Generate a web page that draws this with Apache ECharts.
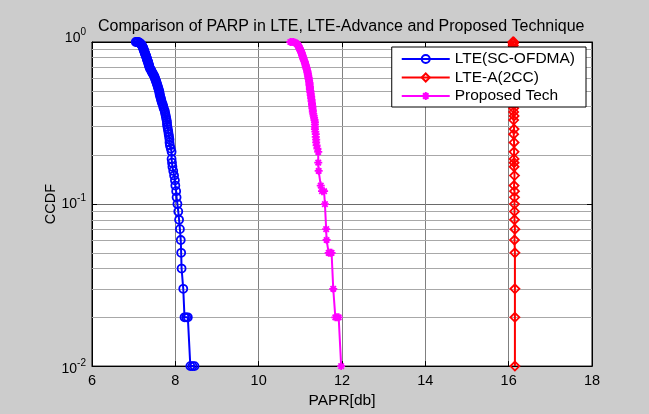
<!DOCTYPE html>
<html>
<head>
<meta charset="utf-8">
<script src="https://cdn.jsdelivr.net/npm/echarts@6/dist/echarts.min.js"></script>
<style>
html,body{margin:0;padding:0;background:#cccccc;}
#chart{width:649px;height:414px;}
</style>
</head>
<body>
<div id="chart"></div>
<script>
// ---- data ----
var lteX = [7.05,7.08,7.11,7.14,7.16,7.18,7.19,7.20,7.21,7.22,7.23,7.23,7.24,7.25,7.25,7.26,7.27,7.27,7.28,7.29,7.30,7.30,7.31,7.32,7.32,7.33,7.34,7.35,7.35,7.36,7.37,7.37,7.38,7.39,7.40,7.42,7.43,7.44,7.46,7.47,7.49,7.50,7.51,7.52,7.53,7.54,7.55,7.56,7.57,7.58,7.59,7.60,7.61,7.62,7.62,7.63,7.64,7.65,7.66,7.67,7.68,7.70,7.71,7.72,7.74,7.75,7.76,7.77,7.78,7.79,7.80,7.80,7.81,7.82,7.83,7.84,7.85,7.86,7.86,7.87,7.89,7.91,7.91,7.92,7.93,7.95,7.97,7.99,8.00,8.02,8.03,8.05,8.07,8.09,8.11,8.13,8.14,8.15,8.19,8.22,8.26,8.30,8.36,8.41,8.46];
var lteY = [1.00,1.00,1.00,0.99,0.98,0.97,0.96,0.95,0.94,0.93,0.92,0.91,0.90,0.89,0.88,0.87,0.86,0.85,0.84,0.83,0.82,0.81,0.80,0.79,0.78,0.77,0.76,0.75,0.74,0.73,0.72,0.71,0.70,0.69,0.68,0.67,0.66,0.65,0.64,0.63,0.62,0.61,0.60,0.59,0.58,0.57,0.56,0.55,0.54,0.53,0.52,0.51,0.50,0.49,0.48,0.47,0.46,0.45,0.44,0.43,0.42,0.41,0.40,0.39,0.38,0.37,0.36,0.35,0.34,0.33,0.32,0.31,0.30,0.29,0.28,0.27,0.26,0.25,0.24,0.23,0.22,0.21,0.19,0.18,0.17,0.16,0.15,0.14,0.13,0.12,0.11,0.10,0.09,0.08,0.07,0.06,0.05,0.04,0.03,0.02,0.02,0.02,0.01,0.01,0.01];

var lteaX = [16.10,16.12,16.11,16.11,16.11,16.11,16.11,16.11,16.11,16.11,16.12,16.12,16.12,16.12,16.12,16.12,16.12,16.12,16.13,16.12,16.13,16.12,16.13,16.13,16.13,16.13,16.13,16.14,16.13,16.14,16.14,16.14,16.14,16.14,16.15,16.14,16.15,16.15,16.15,16.15];
var lteaY = [1.00,1.00,0.98,0.95,0.90,0.85,0.80,0.75,0.70,0.65,0.60,0.55,0.50,0.45,0.42,0.41,0.39,0.37,0.35,0.33,0.29,0.27,0.24,0.21,0.19,0.18,0.17,0.15,0.13,0.12,0.11,0.10,0.09,0.08,0.07,0.06,0.05,0.03,0.02,0.01];

var propX = [10.76,10.80,10.84,10.88,10.90,10.92,10.94,10.95,10.96,10.97,10.98,10.98,10.99,11.00,11.01,11.02,11.03,11.03,11.04,11.05,11.05,11.06,11.07,11.07,11.08,11.09,11.10,11.11,11.11,11.12,11.13,11.13,11.14,11.15,11.15,11.16,11.17,11.17,11.18,11.18,11.19,11.19,11.20,11.20,11.21,11.21,11.22,11.22,11.22,11.23,11.23,11.23,11.24,11.24,11.25,11.25,11.26,11.26,11.27,11.27,11.28,11.28,11.29,11.29,11.30,11.30,11.31,11.32,11.33,11.34,11.35,11.35,11.35,11.35,11.36,11.37,11.37,11.38,11.38,11.39,11.41,11.43,11.43,11.44,11.49,11.52,11.57,11.59,11.62,11.63,11.68,11.72,11.75,11.79,11.84,11.88,11.92,11.98];
var propY = [1.00,1.00,1.00,0.99,0.98,0.97,0.96,0.95,0.94,0.93,0.92,0.91,0.90,0.89,0.88,0.87,0.86,0.85,0.84,0.83,0.82,0.81,0.80,0.79,0.78,0.77,0.76,0.75,0.74,0.73,0.72,0.71,0.70,0.69,0.68,0.67,0.66,0.65,0.64,0.63,0.62,0.61,0.60,0.59,0.58,0.57,0.56,0.55,0.54,0.53,0.52,0.51,0.50,0.49,0.48,0.47,0.46,0.45,0.44,0.43,0.42,0.41,0.40,0.39,0.38,0.37,0.36,0.35,0.34,0.33,0.32,0.31,0.30,0.29,0.28,0.27,0.26,0.25,0.24,0.23,0.22,0.21,0.18,0.16,0.13,0.12,0.12,0.10,0.07,0.06,0.05,0.05,0.05,0.03,0.02,0.02,0.02,0.01];

var seriesNames = ['LTE(SC-OFDMA)', 'LTE-A(2CC)', 'Proposed Tech'];
var minorGridValues = [0.02,0.03,0.04,0.05,0.06,0.07,0.08,0.09,0.2,0.3,0.4,0.5,0.6,0.7,0.8,0.9];
var xTicks = {min: 6, max: 18, interval: 2};
var yTicks = {min: 0.01, max: 1};
var titleText = 'Comparison of PARP in LTE, LTE-Advance and Proposed Technique';

function pairs(xs, ys) { return xs.map(function (x, i) { return [x, ys[i]]; }); }

var FONT = 'Arial, "Liberation Sans", sans-serif';
var asterisk = 'path://M5 0L5 10M0 5L10 5M1.6 1.6L8.4 8.4M8.4 1.6L1.6 8.4';

var chart = echarts.init(document.getElementById('chart'), null, {renderer: 'canvas'});
var option = {
  animation: false,
  backgroundColor: '#cccccc',
  textStyle: {fontFamily: FONT},
  title: {
    text: titleText,
    left: 93,
    top: 14,
    textStyle: {fontFamily: FONT, fontSize: 16, fontWeight: 'normal', color: '#000'}
  },
  grid: {
    left: 92, right: 57, top: 42, bottom: 42,
    show: true, backgroundColor: '#ffffff', borderColor: '#000', borderWidth: 1
  },
  legend: {
    data: seriesNames,
    orient: 'vertical',
    right: 63, top: 47, z: 10,
    backgroundColor: '#ffffff',
    borderColor: '#000', borderWidth: 1, borderRadius: 0,
    padding: [4, 11, 3, 9],
    itemWidth: 48, itemHeight: 10, itemGap: 2.5,
    textStyle: {fontFamily: FONT, fontSize: 15.5, lineHeight: 14.5, color: '#000'}
  },
  xAxis: [{
    type: 'value', min: xTicks.min, max: xTicks.max, interval: xTicks.interval,
    name: 'PAPR[db]', nameLocation: 'middle', nameGap: 23,
    nameTextStyle: {fontFamily: FONT, fontSize: 15.5, color: '#000'},
    axisLine: {show: true, onZero: false, lineStyle: {color: '#000', width: 1}},
    axisTick: {show: true, inside: true, length: 5, lineStyle: {color: '#000'}},
    axisLabel: {fontFamily: FONT, fontSize: 14.5, color: '#000', margin: 7},
    splitLine: {show: true, lineStyle: {color: '#808080', width: 1}}
  }, {
    type: 'value', position: 'top', min: xTicks.min, max: xTicks.max, interval: xTicks.interval,
    axisLine: {show: true, onZero: false, lineStyle: {color: '#000'}},
    axisTick: {show: true, inside: true, length: 5, lineStyle: {color: '#000'}},
    axisLabel: {show: false}, splitLine: {show: false}
  }],
  yAxis: [{
    type: 'log', logBase: 10, min: yTicks.min, max: yTicks.max,
    name: 'CCDF', nameLocation: 'middle', nameGap: 34, nameRotate: 90, nameMoveOverlap: false,
    nameTextStyle: {fontFamily: FONT, fontSize: 14.5, color: '#000'},
    axisLine: {show: true, onZero: false, lineStyle: {color: '#000', width: 1}},
    axisTick: {show: true, inside: true, length: 5, lineStyle: {color: '#000'}},
    axisLabel: {
      margin: 6,
      formatter: function (v) {
        var e = Math.round(Math.log(v) / Math.LN10);
        if (e === 0) return '{at|10}{bt|' + e + '}';
        if (e === -2) return '{am|10}{bm|' + e + '}';
        return '{a|10}{b|' + e + '}';
      },
      rich: {
        a: {fontFamily: FONT, fontSize: 14, color: '#000', lineHeight: 16},
        b: {fontFamily: FONT, fontSize: 10, color: '#000', lineHeight: 10, padding: [0, 0, 12, 0]},
        at: {fontFamily: FONT, fontSize: 14, color: '#000', lineHeight: 16, padding: [0, 0, 8, 0]},
        bt: {fontFamily: FONT, fontSize: 10, color: '#000', lineHeight: 10, padding: [0, 0, 20, 0]},
        am: {fontFamily: FONT, fontSize: 14, color: '#000', lineHeight: 16, padding: [6, 0, 0, 0]},
        bm: {fontFamily: FONT, fontSize: 10, color: '#000', lineHeight: 10, padding: [0, 0, 6, 0]}
      }
    },
    splitLine: {show: true, lineStyle: {color: '#6a6a6a', width: 1}}
  }, {
    type: 'log', logBase: 10, min: yTicks.min, max: yTicks.max, position: 'right',
    axisLine: {show: true, onZero: false, lineStyle: {color: '#000'}},
    axisTick: {show: true, inside: true, length: 5, lineStyle: {color: '#000'}},
    axisLabel: {show: false}, splitLine: {show: false}
  }],
  series: [
    {
      name: 'minor-grid', type: 'line', z: 1, silent: true,
      data: [[xTicks.min, yTicks.min]], symbol: 'none',
      lineStyle: {opacity: 0},
      markLine: {
        z: 1, silent: true, symbol: 'none', label: {show: false},
        lineStyle: {color: '#a8a8a8', width: 1, type: 'solid'},
        data: minorGridValues.map(function (v) { return {yAxis: v}; })
      }
    },
    {
      name: seriesNames[0], type: 'line', z: 3,
      data: pairs(lteX, lteY),
      symbol: 'circle', symbolSize: 8, showAllSymbol: true,
      color: '#0000ff',
      lineStyle: {color: '#0000ff', width: 2},
      itemStyle: {color: 'rgba(255,255,255,0)', borderColor: '#0000ff', borderWidth: 1.8}
    },
    {
      name: seriesNames[1], type: 'line', z: 3,
      data: pairs(lteaX, lteaY),
      symbol: 'diamond', symbolSize: 9, showAllSymbol: true,
      color: '#ff0000',
      lineStyle: {color: '#ff0000', width: 2},
      itemStyle: {color: 'rgba(255,255,255,0)', borderColor: '#ff0000', borderWidth: 1.8}
    },
    {
      name: seriesNames[2], type: 'line', z: 3,
      data: pairs(propX, propY),
      symbol: asterisk, symbolSize: 8, showAllSymbol: true,
      color: '#ff00ff',
      lineStyle: {color: '#ff00ff', width: 2},
      itemStyle: {color: 'rgba(255,255,255,0)', borderColor: '#ff00ff', borderWidth: 1.8}
    }
  ]
};
chart.setOption(option);
</script>
</body>
</html>
